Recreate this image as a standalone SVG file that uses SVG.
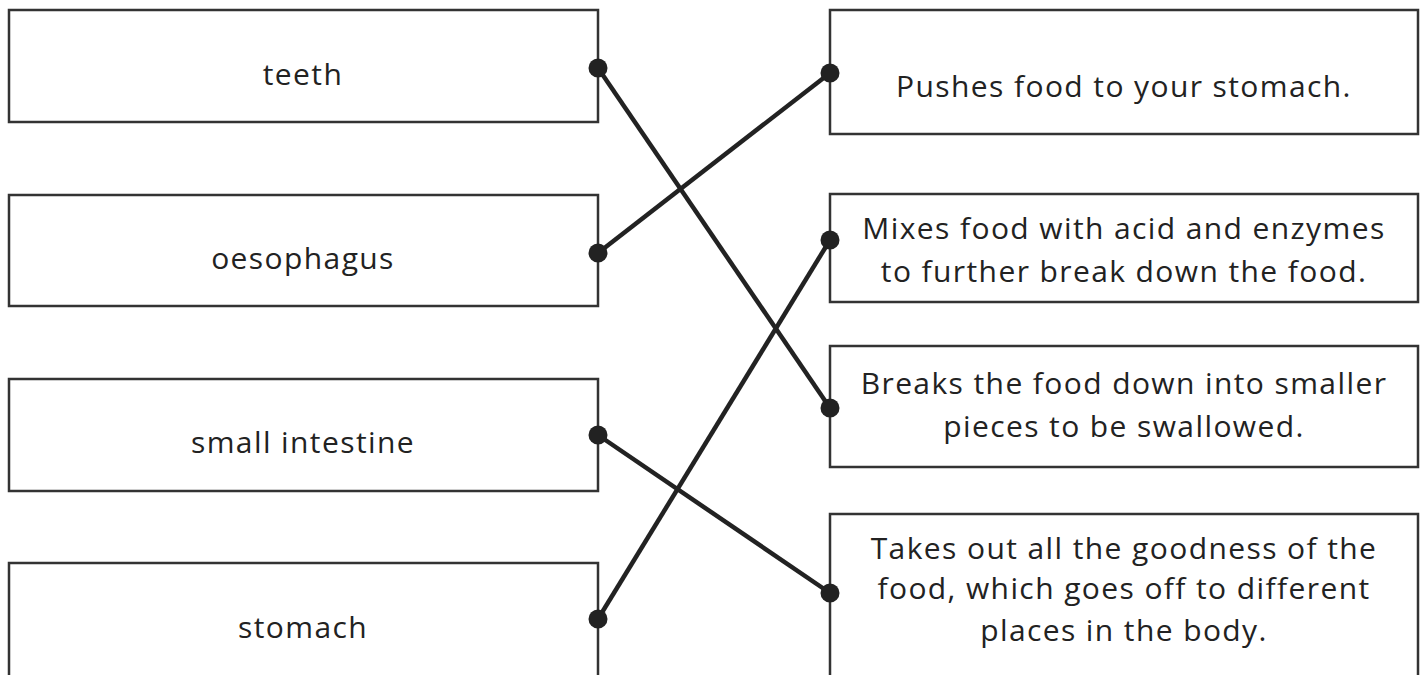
<svg xmlns="http://www.w3.org/2000/svg" width="1428" height="675" viewBox="0 0 1428 675">
<style>
.box{fill:#fff;stroke:#333;stroke-width:2.5}
.t{font-family:"Open Sans","Liberation Sans",sans-serif;font-size:30px;letter-spacing:1.4px;fill:#222;text-anchor:middle}
.c{stroke:#222;stroke-width:4.5;fill:none}
.d{fill:#222}
</style>
<rect width="1428" height="675" fill="#fff"/>
<g id="n-teeth"><rect class="box" x="9" y="10" width="589" height="112"/><text class="t" x="303" y="85">teeth</text></g>
<g id="n-oesophagus"><rect class="box" x="9" y="195" width="589" height="111"/><text class="t" x="303" y="269">oesophagus</text></g>
<g id="n-small"><rect class="box" x="9" y="379" width="589" height="112"/><text class="t" x="303" y="453">small intestine</text></g>
<g id="n-stomach"><rect class="box" x="9" y="563" width="589" height="130"/><text class="t" x="303" y="638">stomach</text></g>
<g id="n-pushes"><rect class="box" x="830" y="10" width="588" height="124"/><text class="t" x="1124" y="97">Pushes food to your stomach.</text></g>
<g id="n-mixes"><rect class="box" x="830" y="194" width="588" height="108"/><text class="t" x="1124" y="239">Mixes food with acid and enzymes</text><text class="t" x="1124" y="282">to further break down the food.</text></g>
<g id="n-breaks"><rect class="box" x="830" y="346" width="588" height="121"/><text class="t" x="1124" y="394">Breaks the food down into smaller</text><text class="t" x="1124" y="437">pieces to be swallowed.</text></g>
<g id="n-takes"><rect class="box" x="830" y="514" width="588" height="180"/><text class="t" x="1124" y="559">Takes out all the goodness of the</text><text class="t" x="1124" y="599">food, which goes off to different</text><text class="t" x="1124" y="641">places in the body.</text></g>
<g id="connectors">
<line class="c" x1="598" y1="68" x2="830" y2="408"/>
<line class="c" x1="598" y1="253" x2="830" y2="73"/>
<line class="c" x1="598" y1="435" x2="830" y2="593"/>
<line class="c" x1="598" y1="619" x2="830" y2="240"/>
<circle class="d" cx="598" cy="68" r="9.5"/>
<circle class="d" cx="598" cy="253" r="9.5"/>
<circle class="d" cx="598" cy="435" r="9.5"/>
<circle class="d" cx="598" cy="619" r="9.5"/>
<circle class="d" cx="830" cy="73" r="9.5"/>
<circle class="d" cx="830" cy="240" r="9.5"/>
<circle class="d" cx="830" cy="408" r="9.5"/>
<circle class="d" cx="830" cy="593" r="9.5"/>
</g>
</svg>
